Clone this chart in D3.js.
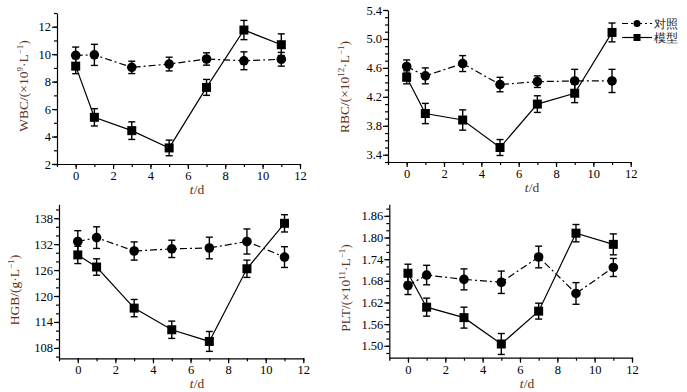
<!DOCTYPE html>
<html>
<head>
<meta charset="utf-8">
<script src="https://cdn.jsdelivr.net/npm/d3@7"></script>
<style>
  body { margin: 0; background: #fff; }
  svg { display: block; }
  text { font-family: "Liberation Serif", "Times New Roman", serif; }
</style>
</head>
<body>
<svg id="chart" width="687" height="392"></svg>
<script>
// time points (days)
const days = [0, 1, 3, 5, 7, 9, 11];

// WBC (x10^9/L)
const wbcControl = [9.92, 9.95, 9.04, 9.28, 9.65, 9.52, 9.63];
const wbcControlErr = [0.6, 0.77, 0.45, 0.5, 0.45, 0.65, 0.5];
const wbcModel = [9.13, 5.4, 4.43, 3.17, 7.58, 11.76, 10.69];
const wbcModelErr = [0.55, 0.63, 0.64, 0.57, 0.58, 0.7, 0.79];

// RBC (x10^12/L)
const rbcControl = [4.62, 4.49, 4.66, 4.37, 4.41, 4.42, 4.42];
const rbcControlErr = [0.09, 0.11, 0.11, 0.1, 0.08, 0.16, 0.16];
const rbcModel = [4.47, 3.97, 3.88, 3.5, 4.1, 4.25, 5.09];
const rbcModelErr = [0.09, 0.14, 0.14, 0.11, 0.115, 0.13, 0.13];

// HGB (g/L)
const hgbControl = [132.6, 133.5, 130.4, 130.9, 131.1, 132.6, 129.0];
const hgbControlErr = [2.5, 2.5, 2.1, 2.0, 2.5, 2.9, 2.4];
const hgbModel = [129.5, 126.7, 117.2, 112.2, 109.5, 126.3, 136.8];
const hgbModelErr = [2.0, 1.9, 2.0, 2.0, 2.3, 2.0, 2.0];

// PLT (x10^11/L)
const pltControl = [1.667, 1.696, 1.684, 1.676, 1.746, 1.645, 1.717];
const pltControlErr = [0.025, 0.027, 0.029, 0.031, 0.03, 0.03, 0.025];
const pltModel = [1.701, 1.607, 1.578, 1.505, 1.596, 1.812, 1.781];
const pltModelErr = [0.025, 0.025, 0.029, 0.029, 0.022, 0.024, 0.029];

const xTicks = [0, 2, 4, 6, 8, 10, 12];
const legendNames = ["对照", "模型"];

const labelColor = "#5c3317";
const svg = d3.select("#chart");

function drawPanel(p) {
    const x = d3.scaleLinear().domain([-1, 12]).range([p.left, p.right]);
    const y = d3.scaleLinear().domain(p.yDomain).range([p.bottom, p.top]);
    const g = svg.append("g");

    // x axis, minor ticks every day
    g.append("g")
        .attr("transform", `translate(0,${p.bottom})`)
        .call(d3.axisBottom(x).tickValues(d3.range(-1, 13, 1)).tickSize(3).tickFormat(""))
        .call(a => a.select(".domain").remove());
    g.append("g")
        .attr("transform", `translate(0,${p.bottom})`)
        .call(d3.axisBottom(x).tickValues(xTicks).tickSize(5).tickSizeOuter(0).tickFormat(d3.format("d")))
        .call(a => a.selectAll("text").attr("font-size", 12.5).attr("y", 7));

    // y axis
    g.append("g")
        .attr("transform", `translate(${p.left},0)`)
        .call(d3.axisLeft(y).tickValues(p.minor).tickSize(3).tickFormat(""))
        .call(a => a.select(".domain").remove());
    g.append("g")
        .attr("transform", `translate(${p.left},0)`)
        .call(d3.axisLeft(y).tickValues(p.major).tickSize(5).tickSizeOuter(0).tickFormat(p.fmt))
        .call(a => a.selectAll("text").attr("font-size", 12.5).attr("x", -6));

    g.selectAll(".domain, .tick line").attr("stroke", "#000").attr("stroke-width", 1.2);

    // y label
    const yl = g.append("text")
        .attr("transform", `translate(${p.ylx},${p.yly}) rotate(-90)`)
        .attr("text-anchor", "middle")
        .attr("font-size", 13.5)
        .attr("fill", labelColor);
    p.ylabel(yl);

    // x label
    const xl = g.append("text")
        .attr("x", p.xlx)
        .attr("y", p.bottom + 30)
        .attr("text-anchor", "middle")
        .attr("font-size", 13.5)
        .attr("fill", labelColor);
    xl.append("tspan").attr("font-style", "italic").text("t");
    xl.append("tspan").text("/d");

    const series = [
        { vals: p.control, err: p.controlErr, dash: "7,3,2,3", shape: "circle" },
        { vals: p.model, err: p.modelErr, dash: null, shape: "square" }
    ];

    series.forEach(s => {
        const pts = days.map((d, i) => ({ t: d, v: s.vals[i], e: s.err[i] }));
        g.append("path")
            .datum(pts)
            .attr("fill", "none")
            .attr("stroke", "#000")
            .attr("stroke-width", 1.2)
            .attr("stroke-dasharray", s.dash)
            .attr("d", d3.line().x(d => x(d.t)).y(d => y(d.v)));

        const eb = g.append("g").attr("stroke", "#000").attr("stroke-width", 1.4);
        pts.forEach(d => {
            eb.append("line").attr("x1", x(d.t)).attr("x2", x(d.t))
                .attr("y1", y(d.v - d.e)).attr("y2", y(d.v + d.e));
            [d.v - d.e, d.v + d.e].forEach(v => {
                eb.append("line").attr("x1", x(d.t) - 3.5).attr("x2", x(d.t) + 3.5)
                    .attr("y1", y(v)).attr("y2", y(v));
            });
        });

        if (s.shape === "circle") {
            g.selectAll(null).data(pts).join("circle")
                .attr("cx", d => x(d.t)).attr("cy", d => y(d.v))
                .attr("r", 4.8).attr("fill", "#000");
        } else {
            g.selectAll(null).data(pts).join("rect")
                .attr("x", d => x(d.t) - 4.5).attr("y", d => y(d.v) - 4.5)
                .attr("width", 9).attr("height", 9).attr("fill", "#000");
        }
    });
}

function supLabel(main, exp) {
    return function (t) {
        t.append("tspan").text(main + "/(×10");
        t.append("tspan").attr("dy", -5).attr("font-size", 9).text(exp);
        t.append("tspan").attr("dy", 5).text("·L");
        t.append("tspan").attr("dy", -5).attr("font-size", 9).text("−1");
        t.append("tspan").attr("dy", 5).text(")");
    };
}

drawPanel({
    left: 57, right: 300, top: 13, bottom: 164,
    yDomain: [2, 13], major: [2, 4, 6, 8, 10, 12], minor: d3.range(2, 13.01, 1),
    fmt: d3.format("d"),
    control: wbcControl, controlErr: wbcControlErr, model: wbcModel, modelErr: wbcModelErr,
    ylx: 28, yly: 86, xlx: 197, ylabel: supLabel("WBC", "9")
});

drawPanel({
    left: 388, right: 630.7, top: 10, bottom: 162,
    yDomain: [3.3, 5.4], major: [3.4, 3.8, 4.2, 4.6, 5.0, 5.4], minor: d3.range(33, 54.5, 1).map(v => v / 10),
    fmt: d3.format(".1f"),
    control: rbcControl, controlErr: rbcControlErr, model: rbcModel, modelErr: rbcModelErr,
    ylx: 349, yly: 87, xlx: 532, ylabel: supLabel("RBC", "12")
});

drawPanel({
    left: 59, right: 303.3, top: 204.3, bottom: 358.3,
    yDomain: [105.6, 141.2], major: [108, 114, 120, 126, 132, 138], minor: d3.range(106, 141, 2),
    fmt: d3.format("d"),
    control: hgbControl, controlErr: hgbControlErr, model: hgbModel, modelErr: hgbModelErr,
    ylx: 19, yly: 290, xlx: 197,
    ylabel: function (t) {
        t.append("tspan").text("HGB/(g·L");
        t.append("tspan").attr("dy", -5).attr("font-size", 9).text("−1");
        t.append("tspan").attr("dy", 5).text(")");
    }
});

drawPanel({
    left: 389.3, right: 632, top: 204.3, bottom: 357.7,
    yDomain: [1.467, 1.892], major: [1.50, 1.56, 1.62, 1.68, 1.74, 1.80, 1.86], minor: d3.range(74, 95, 1).map(v => v / 50),
    fmt: d3.format(".2f"),
    control: pltControl, controlErr: pltControlErr, model: pltModel, modelErr: pltModelErr,
    ylx: 350, yly: 288, xlx: 527, ylabel: supLabel("PLT", "11")
});

// legend
const legend = svg.append("g").attr("transform", "translate(622,23.5)");
legendNames.forEach((name, i) => {
    const row = legend.append("g").attr("transform", `translate(0,${i * 14})`);
    row.append("line").attr("x1", 0).attr("x2", 30).attr("y1", 0).attr("y2", 0)
        .attr("stroke", "#000").attr("stroke-width", 1.2)
        .attr("stroke-dasharray", i === 0 ? "6,3,2,3" : null);
    if (i === 0) {
        row.append("circle").attr("cx", 15).attr("cy", 0).attr("r", 3.5).attr("fill", "#000");
    } else {
        row.append("rect").attr("x", 11.5).attr("y", -3.5).attr("width", 7).attr("height", 7).attr("fill", "#000");
    }
    row.append("text").attr("x", 32).attr("y", 4.5)
        .attr("font-family", "Noto Sans CJK SC").attr("font-size", 12).attr("fill", "#222")
        .text(name);
});
</script>
</body>
</html>
